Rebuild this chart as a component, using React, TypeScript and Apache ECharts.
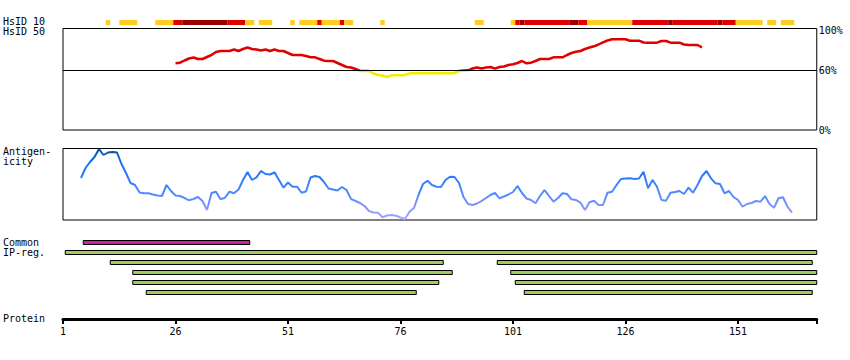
import React, { useEffect, useRef } from "react";
import * as echarts from "echarts";

const FONT = "DejaVu Sans Mono";

// HsID 10 strip: [startResidue, endResidue, level] (1 = yellow, 2 = red, 3 = dark red)
const hsid10Segments = [
  [11, 11, 1], [14, 17, 1], [22, 25, 1], [26, 27, 2], [28, 37, 3], [38, 41, 2],
  [42, 43, 1], [45, 47, 1], [52, 52, 1], [54, 57, 1], [58, 58, 2], [59, 62, 1],
  [63, 63, 2], [64, 65, 1], [72, 72, 1], [93, 94, 1], [101, 101, 1], [102, 102, 2],
  [103, 103, 3], [104, 113, 2], [114, 115, 3], [116, 117, 2], [118, 127, 1],
  [128, 135, 2], [136, 136, 3], [137, 146, 2], [147, 147, 3], [148, 150, 2],
  [151, 156, 1], [158, 159, 1], [161, 163, 1],
];
const levelColors = ["", "#ffcc22", "#e00000", "#990000"];

// HsID 50 identity (%) for residues 26..143
const hsid50Start = 26;
const hsid50Threshold = 60;
const hsid50Values = [
  66.7, 67.3, 69.5, 71.5, 72.5, 71, 71, 73, 75, 78, 79, 79, 79, 80.5, 79, 81, 82.5, 81,
  80.5, 79.5, 80.5, 79, 80.5, 79, 79, 77, 75, 75, 75, 74, 72.7, 72.7, 71, 69.3, 69, 69,
  67, 65, 63, 62.5, 61, 59, 59, 59, 56.5, 55, 54.5, 53, 54.7, 54.7, 54.7, 55, 56.7, 56.7,
  56.7, 56.7, 56.7, 56.7, 56.7, 56.7, 56.7, 56.7, 57, 59, 59.5, 59.7, 61.5, 62.5, 61.5,
  62.5, 63, 61.3, 63, 63.5, 65, 65.7, 67, 69, 66.7, 67.3, 69, 71, 71, 71, 72.7, 72.7,
  72.7, 75, 77, 78.3, 79, 81, 82.5, 83.7, 85.5, 87.7, 89.5, 90.7, 90.7, 90.7, 90.7, 89.3,
  89.3, 89.3, 87.5, 87.3, 87.3, 87.3, 89, 89, 87.3, 87.3, 87.3, 85.5, 85, 85, 85, 82.7,
];

// Antigenicity (relative score) for residues 5..163
const antigenStart = 5;
const antigenValues = [
  42, 52, 58, 63, 71, 65, 67.5, 68, 67.5, 56, 47, 37, 35, 27.5, 26.7, 26.7, 25.5, 24.5,
  24, 35, 29, 24.5, 24, 22, 19.7, 21, 23, 19, 10, 27, 28.3, 20.7, 22.3, 28.3, 26.7, 30.5,
  40, 48, 40, 42.7, 49, 46, 45.5, 47.7, 40, 32.3, 37.5, 33.3, 33.3, 27.3, 28.5, 42.5, 44,
  43, 38, 31.5, 30.5, 29.5, 33, 30, 21, 19, 17, 14, 9, 7.5, 7.3, 2.7, 4.5, 5, 4.2, 2.5,
  1, 8.3, 12, 25, 36, 39.3, 35, 33.3, 33, 40, 43.3, 43, 37, 23, 16, 15, 16.5, 19, 22, 25,
  27, 21.7, 23.5, 25.5, 28, 34, 27, 21.5, 20, 16.7, 24, 30, 24, 18.3, 22, 26.7, 26, 20.7,
  20, 17.3, 10, 17.7, 19.3, 15, 15, 27.3, 28.3, 35, 41, 41.5, 41.7, 41, 41.5, 48.3, 31.7,
  40, 33.3, 20, 19.3, 27.3, 28, 29, 26, 32.3, 27.3, 35, 44, 49, 41.7, 36.7, 36, 26.7, 29,
  23, 20, 13.3, 16, 17, 19, 18.3, 24, 16, 12.3, 21.7, 22.7, 13.3, 7.3,
];
const antigenColors = ["#0050a0", "#1a70f0", "#2a7cff", "#4a88ff", "#7c94ff", "#b0a4ff"];

// Region bars: [start, end, row]
const commonRegions = [[6, 42, 0]];
const ipRegions = [
  [2, 168, 1],
  [12, 85, 2], [98, 167, 2],
  [17, 87, 3], [101, 168, 3],
  [17, 84, 4], [102, 168, 4],
  [20, 79, 5], [104, 167, 5],
];

const proteinTicks = [1, 26, 51, 76, 101, 126, 151];
const AX_MIN = 1;
const AX_MAX = 168.5;
const pctLabels = [0, 60, 100];

export default function App() {
  const ref = useRef<HTMLDivElement>(null);
  useEffect(() => {
    if (!ref.current) return;
    const chart = echarts.init(ref.current, null, { renderer: "svg" });
    const L = 63;
    const W = 753.75;
    const hiddenX = (gi: number) => ({
      type: "value", gridIndex: gi, min: AX_MIN, max: AX_MAX,
      axisLine: { show: false }, axisTick: { show: false }, axisLabel: { show: false }, splitLine: { show: false },
    });
    const hiddenY = (gi: number, min: number, max: number, inverse = false) => ({
      type: "value", gridIndex: gi, min, max, inverse,
      axisLine: { show: false }, axisTick: { show: false }, axisLabel: { show: false }, splitLine: { show: false },
    });
    const leftText = (text: string, y: number) => ({
      type: "text", left: 3, top: y - 6,
      style: { text, font: `10px "${FONT}"`, fill: "#000" },
    });
    const segRender = (params: any, api: any) => {
      const s = api.value(0), e = api.value(1), lvl = api.value(2);
      const p0 = api.coord([s - 0.5, 1]);
      const p1 = api.coord([e + 0.5, 0]);
      return {
        type: "rect",
        shape: { x: p0[0], y: p0[1], width: p1[0] - p0[0], height: p1[1] - p0[1] },
        style: { fill: levelColors[lvl] },
      };
    };
    const barRender = (color: string) => (params: any, api: any) => {
      const s = api.value(0), e = api.value(1), row = api.value(2);
      const p0 = api.coord([s - 0.5, row + 0.5]);
      const p1 = api.coord([e + 0.5, row + 0.5]);
      return {
        type: "rect",
        shape: { x: p0[0], y: p0[1] - 2, width: p1[0] - p0[0], height: 4 },
        style: { fill: color, stroke: "#000", lineWidth: 1 },
      };
    };
    const option: any = {
      animation: false,
      textStyle: { fontFamily: FONT },
      grid: [
        { left: L, width: W, top: 20, height: 5 },
        { left: L, width: W, top: 28.5, height: 101.5, show: true, borderColor: "#000", borderWidth: 1, backgroundColor: "transparent" },
        { left: L, width: W, top: 148.5, height: 71.5, show: true, borderColor: "#000", borderWidth: 1, backgroundColor: "transparent" },
        { left: L, width: W, top: 237.5, height: 60 },
        { left: L, width: W, top: 299, height: 20 },
      ],
      xAxis: [
        hiddenX(0), hiddenX(1), hiddenX(2), hiddenX(3),
        {
          type: "value", gridIndex: 4, min: AX_MIN, max: AX_MAX, interval: 25, position: "bottom",
          axisLine: { show: true, lineStyle: { color: "#000", width: 3 } },
          axisTick: { show: true, length: 5, lineStyle: { color: "#000", width: 2 } },
          axisLabel: {
            show: true, margin: 7, color: "#000", fontFamily: FONT, fontSize: 10,
            showMinLabel: true, showMaxLabel: true,
            formatter: (v: number) => (proteinTicks.indexOf(v) >= 0 ? String(v) : ""),
          },
          splitLine: { show: false },
        },
      ],
      yAxis: [
        hiddenY(0, 0, 1),
        {
          type: "value", gridIndex: 1, min: 0, max: 101.5, interval: 20, position: "right",
          axisLine: { show: false }, axisTick: { show: false }, splitLine: { show: false },
          axisLabel: {
            show: true, margin: 2, color: "#000", fontFamily: FONT, fontSize: 10,
            formatter: (v: number) => (pctLabels.indexOf(v) >= 0 ? v + "%" : ""),
          },
        },
        hiddenY(2, 0, 71.5),
        hiddenY(3, 0, 6, true),
        hiddenY(4, 0, 1),
      ],
      series: [
        {
          id: "hsid10", type: "custom", xAxisIndex: 0, yAxisIndex: 0, renderItem: segRender,
          data: hsid10Segments, silent: true,
        },
        {
          id: "hsid50", type: "line", xAxisIndex: 1, yAxisIndex: 1, showSymbol: false, symbol: "none",
          lineStyle: { width: 2.5, color: "#e00000" },
          data: hsid50Values.map((v, i) => [hsid50Start + i, v]),
          markLine: {
            silent: true, symbol: ["none", "none"], label: { show: false },
            lineStyle: { color: "#000", width: 1, type: "solid" },
            data: [{ yAxis: hsid50Threshold }],
          },
          z: 3,
        },
        {
          id: "antigen", type: "line", xAxisIndex: 2, yAxisIndex: 2, showSymbol: false, symbol: "none",
          lineStyle: { width: 2, color: "#2f7cff" },
          data: antigenValues.map((v, i) => [antigenStart + i, v]),
        },
        {
          type: "custom", xAxisIndex: 3, yAxisIndex: 3, renderItem: barRender("#cc2299"),
          data: commonRegions, silent: true,
        },
        {
          type: "custom", xAxisIndex: 3, yAxisIndex: 3, renderItem: barRender("#9fca5c"),
          data: ipRegions, silent: true,
        },
      ],
      graphic: [
        leftText("HsID 10", 22),
        leftText("HsID 50", 32.5),
        leftText("Antigen-", 152),
        leftText("icity", 162),
        leftText("Common", 243),
        leftText("IP-reg.", 253),
        leftText("Protein", 319.5),
      ],
    };
    chart.setOption(option);

    // colour the lines by value using the axes' own pixel mapping
    const yTop1 = chart.convertToPixel({ xAxisIndex: 1, yAxisIndex: 1 }, [AX_MIN, 101.5])[1];
    const yBot1 = chart.convertToPixel({ xAxisIndex: 1, yAxisIndex: 1 }, [AX_MIN, 0])[1];
    const yThr = chart.convertToPixel({ xAxisIndex: 1, yAxisIndex: 1 }, [AX_MIN, hsid50Threshold])[1];
    const f = (yThr - yTop1) / (yBot1 - yTop1);
    const yTop2 = chart.convertToPixel({ xAxisIndex: 2, yAxisIndex: 2 }, [AX_MIN, 71])[1];
    const yBot2 = chart.convertToPixel({ xAxisIndex: 2, yAxisIndex: 2 }, [AX_MIN, 0])[1];
    chart.setOption({
      series: [
        {
          id: "hsid50",
          lineStyle: {
            color: new echarts.graphic.LinearGradient(0, yTop1, 0, yBot1, [
              { offset: 0, color: "#e00000" },
              { offset: f, color: "#e00000" },
              { offset: f, color: "#f2ec00" },
              { offset: 1, color: "#f2ec00" },
            ], true),
          },
        },
        {
          id: "antigen",
          lineStyle: {
            color: new echarts.graphic.LinearGradient(0, yTop2, 0, yBot2,
              antigenColors.map((c, i) => ({ offset: i / (antigenColors.length - 1), color: c })), true),
          },
        },
      ],
    });
    return () => chart.dispose();
  }, []);
  return <div ref={ref} style={{ position: "absolute", left: 0, top: 0, width: 850, height: 360 }} />;
}
